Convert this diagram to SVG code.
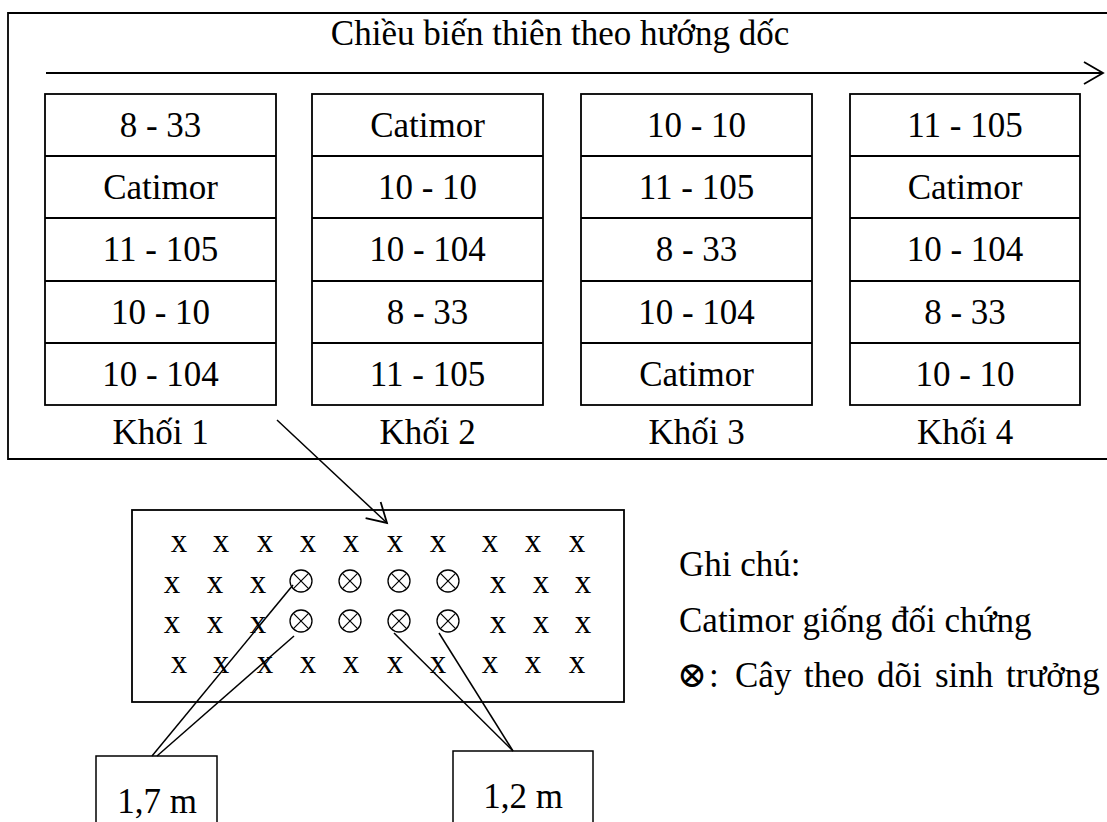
<svg xmlns="http://www.w3.org/2000/svg" width="1107" height="822" viewBox="0 0 1107 822">
  <style>
    .t { font-family: "Liberation Serif", "Times New Roman", serif; font-size: 35px; fill: #000; }
    .c { text-anchor: middle; }
    .mark { font-size: 33px; }
    .ln { fill: none; stroke: #000; stroke-width: 1.8; }
    .thin { fill: none; stroke: #000; stroke-width: 1.5; }
    .sym { font-family: "DejaVu Serif", "DejaVu Sans", serif; }
  </style>
  <defs>
    <marker id="open" markerWidth="24" markerHeight="26" refX="20" refY="12" orient="auto" markerUnits="userSpaceOnUse">
      <path d="M1,1 L20,12 L1,23" fill="none" stroke="#000" stroke-width="1.8"/>
    </marker>
    <g id="otimes">
      <circle cx="0" cy="0" r="11" fill="none" stroke="#000" stroke-width="1.3"/>
      <path d="M-7.8,-7.8 L7.8,7.8 M7.8,-7.8 L-7.8,7.8" stroke="#000" stroke-width="1.2"/>
    </g>
  </defs>

  <!-- outer frame: open on the right -->
  <g id="frame">
    <path class="ln" d="M1107,13 H8 V459 H1107"/>
    <text class="t c" x="560" y="45">Chiều biến thiên theo hướng dốc</text>
  </g>

  <!-- blocks -->
  <g id="khoi1">
    <rect class="ln" x="45" y="94" width="231" height="311"/>
    <path class="ln" d="M45,156 H276 M45,218 H276 M45,281 H276 M45,343 H276"/>
    <text class="t c" x="160.5" y="137">8 - 33</text>
    <text class="t c" x="160.5" y="199">Catimor</text>
    <text class="t c" x="160.5" y="261">11 - 105</text>
    <text class="t c" x="160.5" y="324">10 - 10</text>
    <text class="t c" x="160.5" y="386">10 - 104</text>
    <text class="t c" x="160.5" y="444">Khối 1</text>
  </g>
  <g id="khoi2">
    <rect class="ln" x="312" y="94" width="231" height="311"/>
    <path class="ln" d="M312,156 H543 M312,218 H543 M312,281 H543 M312,343 H543"/>
    <text class="t c" x="427.5" y="137">Catimor</text>
    <text class="t c" x="427.5" y="199">10 - 10</text>
    <text class="t c" x="427.5" y="261">10 - 104</text>
    <text class="t c" x="427.5" y="324">8 - 33</text>
    <text class="t c" x="427.5" y="386">11 - 105</text>
    <text class="t c" x="427.5" y="444">Khối 2</text>
  </g>
  <g id="khoi3">
    <rect class="ln" x="581" y="94" width="231" height="311"/>
    <path class="ln" d="M581,156 H812 M581,218 H812 M581,281 H812 M581,343 H812"/>
    <text class="t c" x="696.5" y="137">10 - 10</text>
    <text class="t c" x="696.5" y="199">11 - 105</text>
    <text class="t c" x="696.5" y="261">8 - 33</text>
    <text class="t c" x="696.5" y="324">10 - 104</text>
    <text class="t c" x="696.5" y="386">Catimor</text>
    <text class="t c" x="696.5" y="444">Khối 3</text>
  </g>
  <g id="khoi4">
    <rect class="ln" x="850" y="94" width="230" height="311"/>
    <path class="ln" d="M850,156 H1080 M850,218 H1080 M850,281 H1080 M850,343 H1080"/>
    <text class="t c" x="965" y="137">11 - 105</text>
    <text class="t c" x="965" y="199">Catimor</text>
    <text class="t c" x="965" y="261">10 - 104</text>
    <text class="t c" x="965" y="324">8 - 33</text>
    <text class="t c" x="965" y="386">10 - 10</text>
    <text class="t c" x="965" y="444">Khối 4</text>
  </g>

  <!-- plot layout -->
  <g id="plot">
    <rect class="ln" x="132" y="510" width="492" height="192"/>
    <g class="t c mark">
      <text x="179" y="552">x</text><text x="221" y="552">x</text><text x="265" y="552">x</text>
      <text x="308" y="552">x</text><text x="351" y="552">x</text><text x="395" y="552">x</text>
      <text x="438" y="552">x</text><text x="490" y="552">x</text><text x="533" y="552">x</text>
      <text x="577" y="552">x</text>

      <text x="172" y="593">x</text><text x="215" y="593">x</text><text x="258" y="593">x</text>
      <text x="498" y="593">x</text><text x="541" y="593">x</text><text x="583" y="593">x</text>

      <text x="172" y="633">x</text><text x="215" y="633">x</text><text x="258" y="633">x</text>
      <text x="498" y="633">x</text><text x="541" y="633">x</text><text x="583" y="633">x</text>

      <text x="179" y="673">x</text><text x="221" y="673">x</text><text x="265" y="673">x</text>
      <text x="308" y="673">x</text><text x="351" y="673">x</text><text x="395" y="673">x</text>
      <text x="438" y="673">x</text><text x="490" y="673">x</text><text x="533" y="673">x</text>
      <text x="577" y="673">x</text>
    </g>
    <use href="#otimes" x="301" y="581"/>
    <use href="#otimes" x="350" y="581"/>
    <use href="#otimes" x="399" y="581"/>
    <use href="#otimes" x="448" y="581"/>
    <use href="#otimes" x="301" y="621"/>
    <use href="#otimes" x="350" y="621"/>
    <use href="#otimes" x="399" y="621"/>
    <use href="#otimes" x="448" y="621"/>
  </g>

  <!-- spacing boxes -->
  <g id="box17">
    <rect class="thin" x="96" y="756" width="121" height="80"/>
    <text class="t c" x="157" y="813">1,7 m</text>
  </g>
  <g id="box12">
    <rect class="thin" x="453" y="751" width="140" height="85"/>
    <text class="t c" x="523" y="808">1,2 m</text>
  </g>

  <!-- legend -->
  <g id="legend">
    <text class="t" x="679" y="576">Ghi chú:</text>
    <text class="t" x="679" y="632">Catimor giống đối chứng</text>
    <text class="t" y="687"><tspan class="sym" x="677" font-size="36">⊗</tspan><tspan x="709">:</tspan><tspan x="735">Cây</tspan><tspan x="804">theo</tspan><tspan x="877">dõi</tspan><tspan x="935">sinh</tspan><tspan x="1006">trưởng</tspan></text>
  </g>

  <!-- connectors -->
  <g id="connectors">
    <line class="ln" x1="46" y1="73" x2="1103" y2="73" marker-end="url(#open)"/>
    <line class="thin" x1="277" y1="420" x2="387" y2="523" marker-end="url(#open)"/>
    <line class="thin" x1="293" y1="585" x2="152" y2="756"/>
    <line class="thin" x1="294" y1="636" x2="157" y2="756"/>
    <line class="thin" x1="394" y1="633" x2="513" y2="751"/>
    <line class="thin" x1="439" y1="633" x2="513" y2="751"/>
  </g>
</svg>
